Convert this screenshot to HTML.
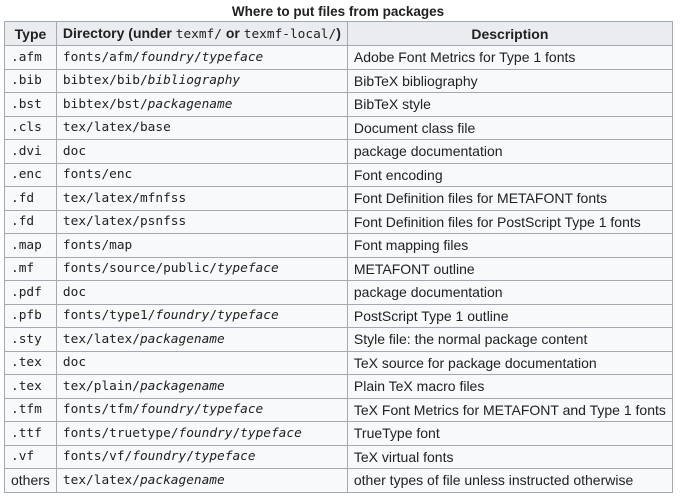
<!DOCTYPE html>
<html><head><style>
body{margin:0;background:#fff;width:680px;height:497px;overflow:hidden;font-family:"Liberation Sans",Arial,sans-serif;color:#202122;}
.cap{position:absolute;left:4px;width:668px;top:4px;text-align:center;font-weight:bold;font-size:13.5px;}
table{position:absolute;left:4px;top:21px;border-collapse:collapse;background:#f8f9fa;font-size:14px;width:668px;}
td,th{border:1px solid #a2a9b1;padding:0 6px;height:22.5px;white-space:nowrap;text-align:left;}
th{background:#eaecf0;text-align:center;height:23px;}
.m{font-family:"DejaVu Sans Mono","Liberation Mono",monospace;font-size:12.8px;}
th .m{font-weight:normal;}
</style></head><body>
<div class="cap">Where to put files from packages</div>
<table>
<colgroup><col style="width:50px"><col style="width:288px"><col></colgroup>
<tr><th>Type</th><th>Directory (under <span class="m">texmf/</span> or <span class="m">texmf-local/</span>)</th><th>Description</th></tr>
<tr><td class="m">.afm</td><td class="m">fonts/afm/<i>foundry</i>/<i>typeface</i></td><td>Adobe Font Metrics for Type 1 fonts</td></tr>
<tr><td class="m">.bib</td><td class="m">bibtex/bib/<i>bibliography</i></td><td>BibTeX bibliography</td></tr>
<tr><td class="m">.bst</td><td class="m">bibtex/bst/<i>packagename</i></td><td>BibTeX style</td></tr>
<tr><td class="m">.cls</td><td class="m">tex/latex/base</td><td>Document class file</td></tr>
<tr><td class="m">.dvi</td><td class="m">doc</td><td>package documentation</td></tr>
<tr><td class="m">.enc</td><td class="m">fonts/enc</td><td>Font encoding</td></tr>
<tr><td class="m">.fd</td><td class="m">tex/latex/mfnfss</td><td>Font Definition files for METAFONT fonts</td></tr>
<tr><td class="m">.fd</td><td class="m">tex/latex/psnfss</td><td>Font Definition files for PostScript Type 1 fonts</td></tr>
<tr><td class="m">.map</td><td class="m">fonts/map</td><td>Font mapping files</td></tr>
<tr><td class="m">.mf</td><td class="m">fonts/source/public/<i>typeface</i></td><td>METAFONT outline</td></tr>
<tr><td class="m">.pdf</td><td class="m">doc</td><td>package documentation</td></tr>
<tr><td class="m">.pfb</td><td class="m">fonts/type1/<i>foundry</i>/<i>typeface</i></td><td>PostScript Type 1 outline</td></tr>
<tr><td class="m">.sty</td><td class="m">tex/latex/<i>packagename</i></td><td>Style file: the normal package content</td></tr>
<tr><td class="m">.tex</td><td class="m">doc</td><td>TeX source for package documentation</td></tr>
<tr><td class="m">.tex</td><td class="m">tex/plain/<i>packagename</i></td><td>Plain TeX macro files</td></tr>
<tr><td class="m">.tfm</td><td class="m">fonts/tfm/<i>foundry</i>/<i>typeface</i></td><td>TeX Font Metrics for METAFONT and Type 1 fonts</td></tr>
<tr><td class="m">.ttf</td><td class="m">fonts/truetype/<i>foundry</i>/<i>typeface</i></td><td>TrueType font</td></tr>
<tr><td class="m">.vf</td><td class="m">fonts/vf/<i>foundry</i>/<i>typeface</i></td><td>TeX virtual fonts</td></tr>
<tr><td>others</td><td class="m">tex/latex/<i>packagename</i></td><td>other types of file unless instructed otherwise</td></tr>
</table>
</body></html>
